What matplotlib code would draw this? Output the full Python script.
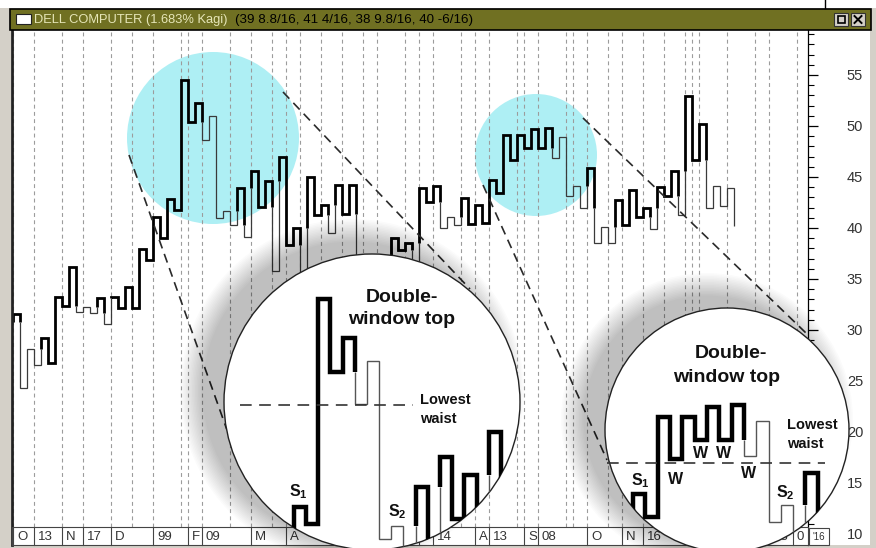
import matplotlib
matplotlib.use("Agg")
import matplotlib.pyplot as plt
from matplotlib.patches import Circle, Rectangle
from matplotlib.transforms import Affine2D, blended_transform_factory
from matplotlib.ticker import MultipleLocator

W, H = 876, 548

plt.rcParams["font.family"] = ["Liberation Sans", "DejaVu Sans"]
plt.rcParams["mathtext.fontset"] = "custom"
plt.rcParams["mathtext.rm"] = "Liberation Sans"
plt.rcParams["mathtext.bf"] = "Liberation Sans:bold"

# ---- data ----
start_price = 30.8
# price reached by the vertical line of each Kagi column
kagi = [31.6, 24.3, 28.1, 26.6, 29.2, 26.8, 33.2, 32.4, 36.2, 31.8,
        32.3, 31.7, 33.1, 30.6, 33.2, 32.2, 34.2, 32.2, 37.9, 36.9,
        41.1, 39.0, 42.8, 41.8, 54.5, 50.4, 52.3, 48.6, 51.0, 41.0,
        41.7, 40.3, 43.9, 39.1, 45.6, 42.1, 44.6, 35.8, 47.0, 38.3,
        40.0, 35.0, 45.0, 41.3, 42.3, 39.5, 44.2, 41.4, 44.2, 33.5,
        36.5, 32.5, 36.8, 31.5, 39.0, 37.8, 38.5, 34.0, 43.9, 42.5,
        44.1, 40.0, 41.1, 40.3, 42.9, 40.4, 42.3, 40.5, 44.7, 43.4,
        49.1, 46.7, 49.1, 47.8, 49.7, 47.8, 49.8, 46.9, 48.9, 43.1,
        44.1, 42.0, 45.9, 38.5, 40.1, 38.5, 42.7, 40.3, 43.7, 41.1,
        42.0, 39.9, 44.0, 43.1, 45.6, 41.3, 52.9, 46.7, 50.2, 42.0,
        44.1, 42.2, 43.9, 40.2]

grid_cols = [0, 3, 7, 10, 14, 17, 20, 24, 25, 27, 31, 34, 37, 39, 41, 44, 47,
             50, 52, 56, 58, 60, 64, 66, 68, 72, 73, 75, 79, 80, 82, 85, 87,
             90, 93, 96, 97, 98, 102, 106, 108, 112]
date_cols = [0, 3, 7, 10, 14, 20, 25, 27, 34, 39, 58, 60, 66, 68, 73, 75,
             82, 87, 90, 108, 111.4]
date_labels = ["O", "13", "N", "17", "D", "99", "F", "09", "M", "A", "J",
               "14", "A", "13", "S", "08", "O", "N", "16", "23", "0"]
price_ticks = [10, 15, 20, 25, 30, 35, 40, 45, 50, 55]

title = "DELL COMPUTER (1.683% Kagi)"
title_values = "(39 8.8/16, 41 4/16, 38 9.8/16, 40 -6/16)"


def kagi_runs(start, turns):
    # split the Kagi line into thick (yang) / thin (yin) runs
    runs = []
    thick = True
    hi, lo = None, start
    pts = [(0, start)]
    y = start
    for k, t in enumerate(turns):
        if t > y:
            if not thick and hi is not None and t > hi:
                pts.append((k, hi))
                runs.append((pts, thick))
                pts = [(k, hi)]
                thick = True
            hi = t
        else:
            if thick and lo is not None and t < lo:
                pts.append((k, lo))
                runs.append((pts, thick))
                pts = [(k, lo)]
                thick = False
            lo = t
        pts.append((k, t))
        if k + 1 < len(turns):
            pts.append((k + 1, t))
        y = t
    runs.append((pts, thick))
    return runs


runs = kagi_runs(start_price, kagi)

fig = plt.figure(figsize=(W / 100, H / 100), dpi=100, facecolor="#d4d0c8")
PX = Affine2D().scale(1 / W, -1 / H).translate(0, 1) + fig.transFigure

# window chrome
fig.add_artist(Rectangle((0, 0), W, 8, transform=PX, fc="white", ec="none", zorder=-2))
fig.add_artist(Rectangle((11, 30), 859, 515, transform=PX, fc="white", ec="none", zorder=-2))
fig.add_artist(plt.Line2D([825, 825], [0, 8], transform=PX, color="black", lw=1))
fig.add_artist(Rectangle((10, 8.5), 861, 21, transform=PX, fc="#707022", ec="black", lw=1.2))
fig.add_artist(Rectangle((16, 14), 15, 10, transform=PX, fc="white", ec="#222", lw=0.8))
fig.text(34, 19.5, title, transform=PX, va="center", ha="left", fontsize=9.3,
         color="#e6e6b8")
fig.text(235, 19.5, title_values, transform=PX, va="center", ha="left", fontsize=9.6,
         color="black")
for bx in (834, 851):
    fig.add_artist(Rectangle((bx, 13), 14, 13, transform=PX, fc="#d4d0c8", ec="#333", lw=0.8))
fig.add_artist(Rectangle((837.5, 16), 7, 7, transform=PX, fc="none", ec="black", lw=1.2))
fig.add_artist(plt.Line2D([854.5, 861.5], [16, 23], transform=PX, color="black", lw=1.4))
fig.add_artist(plt.Line2D([854.5, 861.5], [23, 16], transform=PX, color="black", lw=1.4))

ax = fig.add_axes([12 / W, 3 / H, 796 / W, 515 / H])
ax.set_facecolor("none")
ax.set_xlim(-0.21, 113.5)
ax.set_ylim(8.92, 59.41)
for s in ("top", "bottom"):
    ax.spines[s].set_visible(False)
ax.spines["left"].set_color("#222")
ax.spines["left"].set_linewidth(2)
ax.spines["right"].set_linewidth(0.9)
ax.yaxis.tick_right()
ax.set_yticks(price_ticks)
ax.yaxis.set_minor_locator(MultipleLocator(1))
ax.tick_params(axis="y", which="major", direction="out", length=7, width=0.9,
               pad=21, labelsize=10.5, labelcolor="#333")
ax.tick_params(axis="y", which="minor", direction="out", length=4, width=0.8)
ax.set_xticks([])

# highlighted areas
for cx, cy, r in [(213, 138, 86), (536, 155, 61)]:
    ax.add_patch(Circle((cx, cy), r, transform=PX, fc="#aeeff4", ec="none", zorder=0.5))

for c in grid_cols:
    ax.axvline(c, ymin=0.035, ymax=1, color="#9c9c9c", lw=0.8,
               dashes=(3.5, 3), zorder=1)

# main Kagi line
for pts, thick in runs:
    xs, ys = zip(*pts)
    ax.plot(xs, ys, color="black" if thick else "#3a3a3a", lw=2.0 if thick else 0.9,
            solid_joinstyle="miter", solid_capstyle="butt", zorder=2)

# date strip
strip = blended_transform_factory(ax.transData, PX)
ax.add_patch(Rectangle((12, 527), 796, 18, transform=PX, fc="white", ec="#444",
                       lw=0.8, zorder=2.6, clip_on=False))
for c, lab in zip(date_cols, date_labels):
    ax.plot([c, c], [527, 545], transform=strip, color="#444", lw=0.8,
            zorder=2.7, clip_on=False)
    ax.annotate(lab, (c, 537), xycoords=strip, xytext=(2.5, 0),
                textcoords="offset points", va="center", ha="left",
                fontsize=9.5, color="#333", zorder=2.8, annotation_clip=False)
ax.add_patch(Rectangle((809, 528), 20, 17, transform=PX, fc="white", ec="#444",
                       lw=0.8, zorder=2.6, clip_on=False))
ax.text(819, 537, "'16", transform=PX, ha="center", va="center", fontsize=7,
        color="#333", zorder=2.8, clip_on=False)

# dashed connectors from highlights to magnifiers
connectors = [(129, 155, 227, 430), (283, 92, 470, 289),
              (483, 185, 607, 460), (583, 118, 806, 333)]
for x0, y0, x1, y1 in connectors:
    ax.plot([x0, x1], [y0, y1], transform=PX, color="#2a2a2a", lw=1.2,
            dashes=(5.5, 3.5), zorder=3, clip_on=False)

insets = [
    dict(c=(372, 402), r=148, src=(24, 54.5), dst=(43.53, 33.04), sx=1.74, sy=1.74,
         waist=(240, 413, 405), lowest=(420, 400),
         title=[(402, 297, "Double-"), (402, 320, "window top")],
         marks=[(298, 492, r"$\mathbf{S}_\mathbf{1}$"), (397, 512, r"$\mathbf{S}_\mathbf{2}$")]),
    dict(c=(727, 430), r=122, src=(68, 49.8), dst=(88.5, 22.65), sx=1.76, sy=1.716,
         waist=(607, 825, 463), lowest=(787, 425),
         title=[(731, 353, "Double-"), (727, 378, "window top")],
         marks=[(640, 481, r"$\mathbf{S}_\mathbf{1}$"), (785, 493, r"$\mathbf{S}_\mathbf{2}$"),
                (676, 479, "W"), (701, 454, "W"), (724, 454, "W"), (749, 474, "W")]),
]

for ins in insets:
    cx, cy = ins["c"]
    r = ins["r"]
    n = 16
    # soft drop shadow, thrown up and to the left
    for i in range(n):
        ax.add_patch(Circle((cx - 20, cy - 11), r + 24 * (1 - i / n), transform=PX,
                            fc="black", ec="none", alpha=0.017, zorder=3.5, clip_on=False))
    disc = Circle((cx, cy), r, transform=PX, fc="white", ec="#222", lw=1.0,
                  zorder=4, clip_on=False)
    ax.add_patch(disc)
    (kx, py), (kx2, py2) = ins["src"], ins["dst"]
    for pts, thick in runs:
        xs = [kx2 + (x - kx) * ins["sx"] for x, _ in pts]
        ys = [py2 + (y - py) * ins["sy"] for _, y in pts]
        ln, = ax.plot(xs, ys, color="black" if thick else "#555", lw=3.2 if thick else 1.0,
                      solid_joinstyle="miter", solid_capstyle="butt", zorder=5)
        ln.set_clip_path(disc)
        ln.set_clip_box(None)
    wx0, wx1, wy = ins["waist"]
    ax.plot([wx0, wx1], [wy, wy], transform=PX, color="#333", lw=1.2,
            dashes=(7, 4.5), zorder=5, clip_on=False)
    lx, ly = ins["lowest"]
    ax.text(lx, ly, "Lowest", transform=PX, ha="left", va="center", fontsize=10.5,
            fontweight="bold", color="#111", zorder=6, clip_on=False)
    ax.text(lx, ly + 19, "waist", transform=PX, ha="left", va="center", fontsize=10.5,
            fontweight="bold", color="#111", zorder=6, clip_on=False)
    for tx, ty, s in ins["title"]:
        ax.text(tx, ty, s, transform=PX, ha="center", va="center", fontsize=14,
                fontweight="bold", color="#111", zorder=6, clip_on=False)
    for tx, ty, s in ins["marks"]:
        ax.text(tx, ty, s, transform=PX, ha="center", va="center", fontsize=11.5,
                fontweight="bold", color="#111", zorder=6, clip_on=False)

fig.savefig("out.png", dpi=100, facecolor=fig.get_facecolor())
